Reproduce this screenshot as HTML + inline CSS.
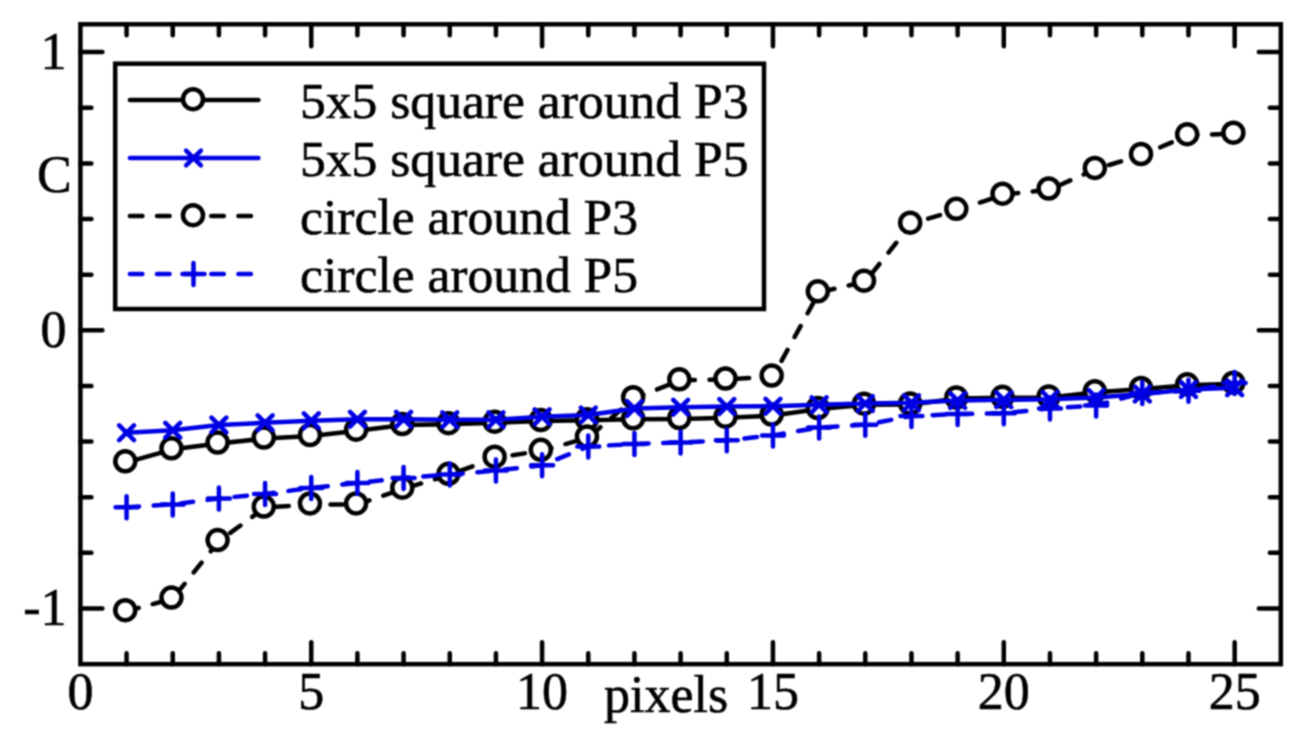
<!DOCTYPE html>
<html><head><meta charset="utf-8"><title>chart</title>
<style>html,body{margin:0;padding:0;background:#fff;width:1306px;height:737px;overflow:hidden}
svg{display:block;font-family:"Liberation Serif",serif}</style></head>
<body><div id="w">
<svg width="1306" height="737" viewBox="0 0 1306 737">
<defs><filter id="sf" x="0" y="0" width="1306" height="737" filterUnits="userSpaceOnUse" color-interpolation-filters="sRGB"><feConvolveMatrix order="3" kernelMatrix="1 2 1 2 4 2 1 2 1" divisor="16" edgeMode="duplicate"/></filter></defs>
<g filter="url(#sf)">
<rect width="1306" height="737" fill="#fff"/>
<g fill="none" stroke="#000" stroke-width="4.5" stroke-linecap="round" stroke-linejoin="round">
<path d="M126.57 664.14v-11M126.57 24.28v11M172.74 664.14v-11M172.74 24.28v11M218.91 664.14v-11M218.91 24.28v11M265.08 664.14v-11M265.08 24.28v11M311.25 664.14v-22M311.25 24.28v22M357.42 664.14v-11M357.42 24.28v11M403.59 664.14v-11M403.59 24.28v11M449.76 664.14v-11M449.76 24.28v11M495.93 664.14v-11M495.93 24.28v11M542.1 664.14v-22M542.1 24.28v22M588.27 664.14v-11M588.27 24.28v11M634.44 664.14v-11M634.44 24.28v11M680.61 664.14v-11M680.61 24.28v11M726.78 664.14v-11M726.78 24.28v11M772.95 664.14v-22M772.95 24.28v22M819.12 664.14v-11M819.12 24.28v11M865.29 664.14v-11M865.29 24.28v11M911.46 664.14v-11M911.46 24.28v11M957.63 664.14v-11M957.63 24.28v11M1003.8 664.14v-22M1003.8 24.28v22M1049.97 664.14v-11M1049.97 24.28v11M1096.14 664.14v-11M1096.14 24.28v11M1142.31 664.14v-11M1142.31 24.28v11M1188.48 664.14v-11M1188.48 24.28v11M1234.65 664.14v-22M1234.65 24.28v22M80.4 608.5h22M1280.82 608.5h-22M80.4 552.86h11M1280.82 552.86h-11M80.4 497.22h11M1280.82 497.22h-11M80.4 441.58h11M1280.82 441.58h-11M80.4 385.94h11M1280.82 385.94h-11M80.4 330.3h22M1280.82 330.3h-22M80.4 274.66h11M1280.82 274.66h-11M80.4 219.02h11M1280.82 219.02h-11M80.4 163.38h11M1280.82 163.38h-11M80.4 107.74h11M1280.82 107.74h-11M80.4 52.1h22M1280.82 52.1h-22"/>
<rect x="80.4" y="24.28" width="1200.42" height="639.86" stroke-linejoin="miter"/>
</g>
<g font-family="Liberation Serif" font-size="52" fill="#000" stroke="#000" stroke-width="0.6">
<text x="66.5" y="68.7" text-anchor="end">1</text>
<text x="66.5" y="346.9" text-anchor="end">0</text>
<text x="66.5" y="625.1" text-anchor="end">-1</text>
<text x="37" y="191.5">C</text>
<text x="80.4" y="709" text-anchor="middle">0</text>
<text x="311.25" y="709" text-anchor="middle">5</text>
<text x="542.1" y="709" text-anchor="middle">10</text>
<text x="772.95" y="709" text-anchor="middle">15</text>
<text x="1003.8" y="709" text-anchor="middle">20</text>
<text x="1234.65" y="709" text-anchor="middle">25</text>
<text x="604" y="711.5">pixels</text>
</g>
<g fill="none" stroke-width="4.5" stroke-linecap="round" stroke-linejoin="round">
<polyline stroke="#000" points="126.57,462.3 172.74,449.3 218.91,443.5 265.08,438.5 311.25,436 357.42,430.7 403.59,425 449.76,424.2 495.93,422.7 542.1,421 588.27,420.2 634.44,419.3 680.61,419 726.78,417.7 772.95,415.5 819.12,409 865.29,404.7 911.46,404.5 957.63,398.5 1003.8,397.8 1049.97,397.5 1096.14,392.2 1142.31,389 1188.48,385.3 1234.65,383.7"/>
<g stroke="#000" fill="#fff"><circle cx="125.27" cy="461.3" r="10"/><circle cx="171.44" cy="448.3" r="10"/><circle cx="217.61" cy="442.5" r="10"/><circle cx="263.78" cy="437.5" r="10"/><circle cx="309.95" cy="435" r="10"/><circle cx="356.12" cy="429.7" r="10"/><circle cx="402.29" cy="424" r="10"/><circle cx="448.46" cy="423.2" r="10"/><circle cx="494.63" cy="421.7" r="10"/><circle cx="540.8" cy="420" r="10"/><circle cx="586.97" cy="419.2" r="10"/><circle cx="633.14" cy="418.3" r="10"/><circle cx="679.31" cy="418" r="10"/><circle cx="725.48" cy="416.7" r="10"/><circle cx="771.65" cy="414.5" r="10"/><circle cx="817.82" cy="408" r="10"/><circle cx="863.99" cy="403.7" r="10"/><circle cx="910.16" cy="403.5" r="10"/><circle cx="956.33" cy="397.5" r="10"/><circle cx="1002.5" cy="396.8" r="10"/><circle cx="1048.67" cy="396.5" r="10"/><circle cx="1094.84" cy="391.2" r="10"/><circle cx="1141.01" cy="388" r="10"/><circle cx="1187.18" cy="384.3" r="10"/><circle cx="1233.35" cy="382.7" r="10"/></g>
<polyline stroke="#000" stroke-dasharray="12.5 14.63" points="126.57,611.2 172.74,598.6 218.91,541.1 265.08,507.6 311.25,504.4 357.42,504.4 403.59,488.7 449.76,474.8 495.93,457.7 542.1,450.8 588.27,437.5 634.44,398.2 680.61,380.3 726.78,379.5 772.95,376.5 819.12,292.3 865.29,281.7 911.46,223.7 957.63,209.8 1003.8,194.7 1049.97,189.5 1096.14,168.9 1142.31,155 1188.48,135.2 1234.65,133.7"/>
<g stroke="#000" fill="#fff"><circle cx="125.27" cy="610.2" r="10"/><circle cx="171.44" cy="597.6" r="10"/><circle cx="217.61" cy="540.1" r="10"/><circle cx="263.78" cy="506.6" r="10"/><circle cx="309.95" cy="503.4" r="10"/><circle cx="356.12" cy="503.4" r="10"/><circle cx="402.29" cy="487.7" r="10"/><circle cx="448.46" cy="473.8" r="10"/><circle cx="494.63" cy="456.7" r="10"/><circle cx="540.8" cy="449.8" r="10"/><circle cx="586.97" cy="436.5" r="10"/><circle cx="633.14" cy="397.2" r="10"/><circle cx="679.31" cy="379.3" r="10"/><circle cx="725.48" cy="378.5" r="10"/><circle cx="771.65" cy="375.5" r="10"/><circle cx="817.82" cy="291.3" r="10"/><circle cx="863.99" cy="280.7" r="10"/><circle cx="910.16" cy="222.7" r="10"/><circle cx="956.33" cy="208.8" r="10"/><circle cx="1002.5" cy="193.7" r="10"/><circle cx="1048.67" cy="188.5" r="10"/><circle cx="1094.84" cy="167.9" r="10"/><circle cx="1141.01" cy="154" r="10"/><circle cx="1187.18" cy="134.2" r="10"/><circle cx="1233.35" cy="132.7" r="10"/></g>
<polyline stroke="#0000e4" points="126.57,432.8 172.74,430.3 218.91,425 265.08,422.8 311.25,420.8 357.42,419.2 403.59,419.3 449.76,419.7 495.93,419.7 542.1,416.8 588.27,415 634.44,408.6 680.61,407.2 726.78,406.6 772.95,406.2 819.12,404.7 865.29,403.6 911.46,402.7 957.63,400.5 1003.8,399.8 1049.97,399.3 1096.14,397.6 1142.31,394 1188.48,389.5 1234.65,387.7"/>
<path stroke="#0000e4" d="M119.17 425.4L133.97 440.2M119.17 440.2L133.97 425.4M165.34 422.9L180.14 437.7M165.34 437.7L180.14 422.9M211.51 417.6L226.31 432.4M211.51 432.4L226.31 417.6M257.68 415.4L272.48 430.2M257.68 430.2L272.48 415.4M303.85 413.4L318.65 428.2M303.85 428.2L318.65 413.4M350.02 411.8L364.82 426.6M350.02 426.6L364.82 411.8M396.19 411.9L410.99 426.7M396.19 426.7L410.99 411.9M442.36 412.3L457.16 427.1M442.36 427.1L457.16 412.3M488.53 412.3L503.33 427.1M488.53 427.1L503.33 412.3M534.7 409.4L549.5 424.2M534.7 424.2L549.5 409.4M580.87 407.6L595.67 422.4M580.87 422.4L595.67 407.6M627.04 401.2L641.84 416M627.04 416L641.84 401.2M673.21 399.8L688.01 414.6M673.21 414.6L688.01 399.8M719.38 399.2L734.18 414M719.38 414L734.18 399.2M765.55 398.8L780.35 413.6M765.55 413.6L780.35 398.8M811.72 397.3L826.52 412.1M811.72 412.1L826.52 397.3M857.89 396.2L872.69 411M857.89 411L872.69 396.2M904.06 395.3L918.86 410.1M904.06 410.1L918.86 395.3M950.23 393.1L965.03 407.9M950.23 407.9L965.03 393.1M996.4 392.4L1011.2 407.2M996.4 407.2L1011.2 392.4M1042.57 391.9L1057.37 406.7M1042.57 406.7L1057.37 391.9M1088.74 390.2L1103.54 405M1088.74 405L1103.54 390.2M1134.91 386.6L1149.71 401.4M1134.91 401.4L1149.71 386.6M1181.08 382.1L1195.88 396.9M1181.08 396.9L1195.88 382.1M1227.25 380.3L1242.05 395.1M1227.25 395.1L1242.05 380.3"/>
<polyline stroke="#0000e4" stroke-dasharray="12.5 14.63" points="126.57,507.2 172.74,504.4 218.91,498.4 265.08,493.9 311.25,487.9 357.42,483 403.59,477.9 449.76,474.6 495.93,470.6 542.1,465.2 588.27,446.5 634.44,444 680.61,442.4 726.78,440.3 772.95,435.4 819.12,427.5 865.29,424.8 911.46,416 957.63,414.1 1003.8,413.3 1049.97,408.4 1096.14,405.4 1142.31,393 1188.48,390.8 1234.65,383"/>
<path stroke="#0000e4" d="M115.57 507.2H137.57M126.57 496.2V518.2M161.74 504.4H183.74M172.74 493.4V515.4M207.91 498.4H229.91M218.91 487.4V509.4M254.08 493.9H276.08M265.08 482.9V504.9M300.25 487.9H322.25M311.25 476.9V498.9M346.42 483H368.42M357.42 472V494M392.59 477.9H414.59M403.59 466.9V488.9M438.76 474.6H460.76M449.76 463.6V485.6M484.93 470.6H506.93M495.93 459.6V481.6M531.1 465.2H553.1M542.1 454.2V476.2M577.27 446.5H599.27M588.27 435.5V457.5M623.44 444H645.44M634.44 433V455M669.61 442.4H691.61M680.61 431.4V453.4M715.78 440.3H737.78M726.78 429.3V451.3M761.95 435.4H783.95M772.95 424.4V446.4M808.12 427.5H830.12M819.12 416.5V438.5M854.29 424.8H876.29M865.29 413.8V435.8M900.46 416H922.46M911.46 405V427M946.63 414.1H968.63M957.63 403.1V425.1M992.8 413.3H1014.8M1003.8 402.3V424.3M1038.97 408.4H1060.97M1049.97 397.4V419.4M1085.14 405.4H1107.14M1096.14 394.4V416.4M1131.31 393H1153.31M1142.31 382V404M1177.48 390.8H1199.48M1188.48 379.8V401.8M1223.65 383H1245.65M1234.65 372V394"/>
</g>
<rect x="115.2" y="63.7" width="648.8" height="245.3" fill="#fff" stroke="#000" stroke-width="4.5"/>
<g fill="none" stroke-width="4.5" stroke-linecap="round">
<path stroke="#000" d="M129.9 100H258.4"/>
<circle cx="193" cy="99.2" r="10" stroke="#000" fill="#fff"/>
<path stroke="#0000e4" d="M129.9 158H258.4"/>
<path stroke="#0000e4" d="M186.1 150.6L200.9 165.4M186.1 165.4L200.9 150.6"/>
<path stroke="#000" stroke-dasharray="12.5 14.63" d="M129.9 216H258.4"/>
<circle cx="193" cy="215.2" r="10" stroke="#000" fill="#fff"/>
<path stroke="#0000e4" stroke-dasharray="12.5 14.63" d="M129.9 274H258.4"/>
<path stroke="#0000e4" d="M182.5 274H204.5M193.5 263V285"/>
</g>
<g font-family="Liberation Serif" font-size="51.6" fill="#000" stroke="#000" stroke-width="0.6">
<text x="300" y="117.6">5x5 square around P3</text>
<text x="300" y="175.6">5x5 square around P5</text>
<text x="300" y="233.6">circle around P3</text>
<text x="300" y="291.6">circle around P5</text>
</g>
</g>
</svg>
</div></body></html>
